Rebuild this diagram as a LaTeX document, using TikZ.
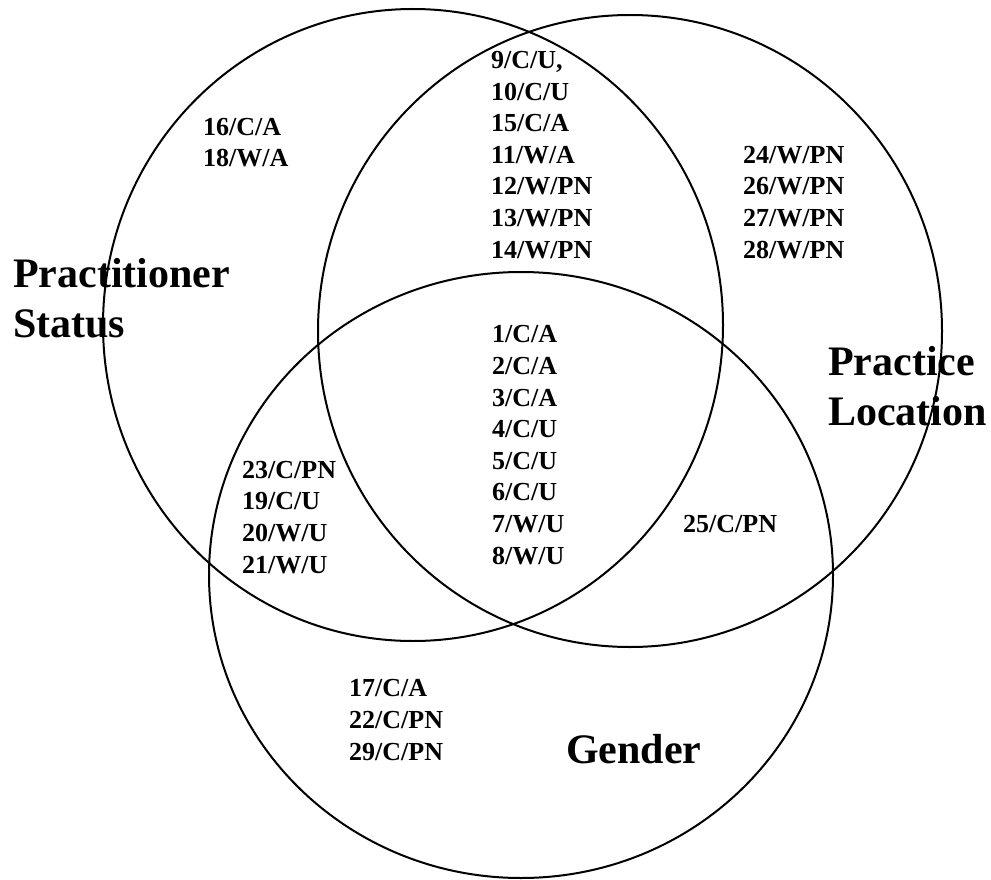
\documentclass[tikz,border=0pt]{standalone}
\usepackage{fontspec}
\setmainfont{Liberation Serif}
\begin{document}
\begin{tikzpicture}[x=1pt,y=-1pt,
    set/.style={line width=2pt},
    members/.style={font=\bfseries\fontsize{26}{31.6}\selectfont,align=left,anchor=base west,inner sep=0pt},
    setname/.style={font=\bfseries\fontsize{42}{50}\selectfont,align=left,anchor=base west,inner sep=0pt}
    ]
    \useasboundingbox (0,0) rectangle (991,880);

    % the three sets
    \draw[set] (413,325) ellipse [x radius=310,y radius=316];
    \draw[set] (630,331) ellipse [x radius=312,y radius=316];
    \draw[set] (521,575) ellipse [x radius=312,y radius=303];

    % set names (placed at the baseline of their last line)
    \node[setname] (status) at (13,337) {Practitioner\\Status};
    \node[setname] (location) at (828,425) {Practice\\Location};
    \node[setname] (gender) at (566,763) {Gender};

    % members of each region
    \node[members] (statusonly) at (203,167) {16/C/A\\18/W/A};
    \node[members] (statusloc) at (491,258) {9/C/U,\\10/C/U\\15/C/A\\11/W/A\\12/W/PN\\13/W/PN\\14/W/PN};
    \node[members] (loconly) at (743,258) {24/W/PN\\26/W/PN\\27/W/PN\\28/W/PN};
    \node[members] (allthree) at (492,564) {1/C/A\\2/C/A\\3/C/A\\4/C/U\\5/C/U\\6/C/U\\7/W/U\\8/W/U};
    \node[members] (statusgender) at (242,573) {23/C/PN\\19/C/U\\20/W/U\\21/W/U};
    \node[members] (locgender) at (683,532) {25/C/PN};
    \node[members] (genderonly) at (349,760) {17/C/A\\22/C/PN\\29/C/PN};
\end{tikzpicture}
\end{document}
